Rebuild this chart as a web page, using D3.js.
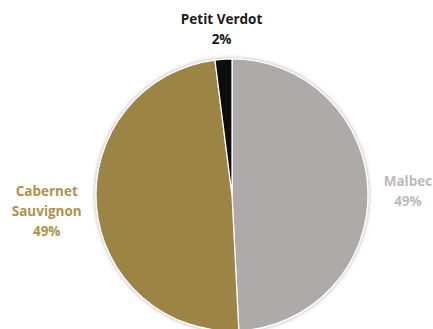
<!DOCTYPE html>
<html>
<head>
<meta charset="utf-8">
<script src="https://cdn.jsdelivr.net/npm/d3@7"></script>
<style>
  body { margin: 0; background: #fff; }
  text { font-family: "Open Sans", Lato, sans-serif; font-weight: bold; font-size: 13.5px; }
</style>
</head>
<body>
<div id="chart"></div>
<script>
// grape varieties, clockwise from 12 o'clock
var varieties = ["Malbec", "Cabernet Sauvignon", "Petit Verdot"];
var shares    = [49.2, 48.8, 2.0];
var pctLabels = ["49%", "49%", "2%"];
var nameLines = [["Malbec"], ["Cabernet", "Sauvignon"], ["Petit Verdot"]];

var sliceColors = ["#aeaaa9", "#9c8445", "#0d0d0d"];
var labelColors = ["#bdbab9", "#b0924a", "#1a1a1a"];

var width = 433, height = 329;
var cx = 232, cy = 195, radius = 136;
// how far out each label sits (excel "best fit" is not regular)
var labelRadius = [176, 186, 166];

var svg = d3.select("#chart")
    .append("svg")
      .attr("width", width)
      .attr("height", height);

var defs = svg.append("defs");
var shadow = defs.append("filter").attr("id", "shadow")
    .attr("x", "-10%").attr("y", "-10%").attr("width", "120%").attr("height", "120%");
shadow.append("feDropShadow")
    .attr("dx", 0).attr("dy", 0)
    .attr("stdDeviation", 2)
    .attr("flood-color", "#000")
    .attr("flood-opacity", 0.35);

var g = svg.append("g")
    .attr("transform", "translate(" + cx + "," + cy + ")");

var pie = d3.pie().sort(null).value(function(d) { return d; });
var arcs = pie(shares);

var arc = d3.arc().innerRadius(0).outerRadius(radius);

g.append("g")
    .attr("filter", "url(#shadow)")
  .selectAll("path")
  .data(arcs)
  .enter().append("path")
    .attr("d", arc)
    .attr("fill", function(d, i) { return sliceColors[i]; })
    .attr("stroke", "#fff")
    .attr("stroke-width", 1.2);

// labels
arcs.forEach(function(d, i) {
    var la = d3.arc().innerRadius(labelRadius[i]).outerRadius(labelRadius[i]);
    var c = la.centroid(d);
    var lines = nameLines[i].concat([pctLabels[i]]);
    var lh = 20;
    var y0 = c[1] - (lines.length - 1) * lh / 2 + 5;
    var t = g.append("text")
        .attr("text-anchor", "middle")
        .style("fill", labelColors[i]);
    lines.forEach(function(s, j) {
        t.append("tspan")
            .attr("x", c[0])
            .attr("y", y0 + j * lh)
            .text(s);
    });
});
</script>
</body>
</html>
